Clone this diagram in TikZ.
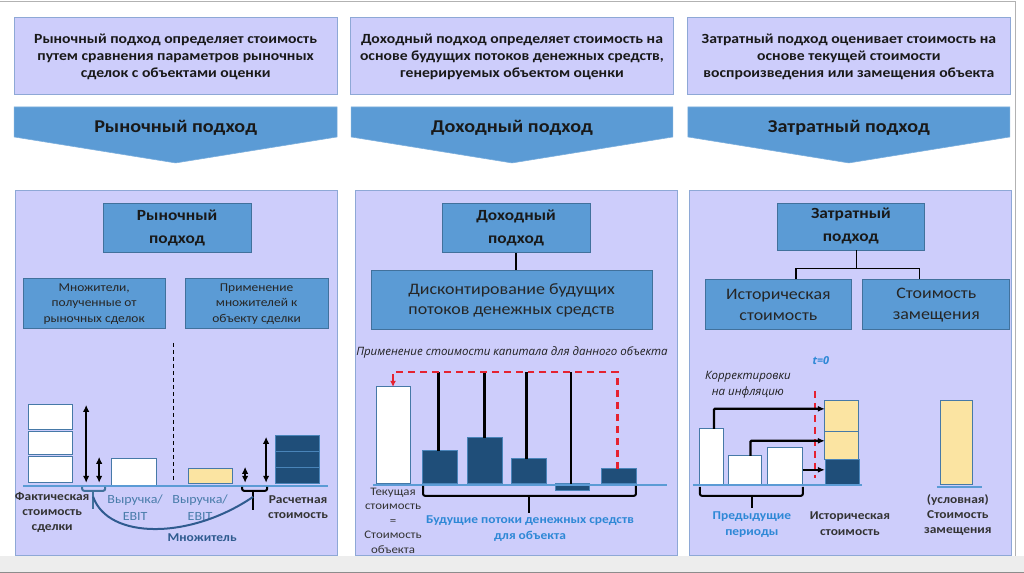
\documentclass[tikz,border=0pt]{standalone}
\usepackage{fontspec}
\setmainfont[FakeStretch=1.12]{Carlito}
\newfontfamily\slantfont{Open Sans}
\usepackage{tikz}
\usetikzlibrary{arrows.meta,positioning,calc}
\definecolor{pnlfill}{HTML}{CDCDFB}
\definecolor{pnledge}{HTML}{8EA8D6}
\definecolor{boxblue}{HTML}{5B9BD5}
\definecolor{boxedge}{HTML}{41719C}
\definecolor{darkfill}{HTML}{1F4E79}
\definecolor{sandfill}{HTML}{FBE4A2}
\definecolor{lblblue}{HTML}{2E88D6}
\definecolor{dashred}{HTML}{E52230}
\definecolor{txtdark}{HTML}{333333}
\definecolor{curveblue}{HTML}{2F5B8F}

\begin{document}
\begin{tikzpicture}[x=1pt, y=-1pt,
  panel/.style={fill=pnlfill, draw=pnledge, line width=1pt},
  topbox/.style={panel, inner sep=0, minimum width=323, minimum height=77, align=center, text=black!90, font=\bfseries\fontsize{14}{17}\selectfont},
  chev/.style={fill=boxblue, draw=boxblue!80!white, line width=0.6pt},
  chevlbl/.style={font=\bfseries\fontsize{18}{20}\selectfont, text=black!90},
  hdrbox/.style={fill=boxblue, draw=boxedge, line width=0.8pt, inner sep=0, align=center, font=\bfseries\fontsize{15.5}{23}\selectfont, text=black!90},
  subbox/.style={fill=boxblue, draw=boxedge, line width=0.8pt, inner sep=0, align=center, font=\fontsize{12}{15.5}\selectfont, text=black!85},
  bigbox/.style={subbox, font=\fontsize{16}{20.5}\selectfont},
  wbar/.style={fill=white, draw=boxedge!80!boxblue, line width=1pt, inner sep=0, outer sep=0, anchor=south west},
  dbar/.style={fill=darkfill, draw=boxblue!70!darkfill, line width=0.7pt, inner sep=0, outer sep=0, anchor=south west},
  sbar/.style={fill=sandfill, draw=boxedge!80!boxblue, line width=1pt, inner sep=0, outer sep=0, anchor=south west},
  baseln/.style={draw=boxblue, line width=1.8pt},
  dblarr/.style={{Latex[length=7pt,width=6.5pt]}-{Latex[length=7pt,width=6.5pt]}, line width=2.2pt},
  brk/.style={line width=2pt, rounded corners=2pt},
  stemln/.style={line width=2.4pt},
  treeln/.style={line width=1.2pt},
  harr/.style={-{Latex[length=7pt,width=6pt]}, line width=2.2pt, rounded corners=1pt},
  reddash/.style={draw=dashred, line width=2.4pt, dash pattern=on 7pt off 5pt},
  boldlbl/.style={align=center, font=\bfseries\fontsize{12}{15}\selectfont, text=txtdark},
  bluelbl/.style={align=center, font=\bfseries\fontsize{12}{16}\selectfont, text=lblblue},
  plainlbl/.style={align=center, font=\fontsize{11.5}{14.5}\selectfont, text=txtdark},
  slantlbl/.style={align=center, font=\slantfont\itshape\fontsize{11.5}{16}\selectfont, text=black!88}
]
  \fill[white] (0,0) rectangle (1024,573);
  \fill[black!7] (0,556) rectangle (1024,573);
  \draw[black!30] (0,1) -- (1015,1) -- (1015,556);
  \draw[black!45] (0,572) -- (1024,572);
  \useasboundingbox (0,0) rectangle (1024,573);

  \node[topbox] (mtop) at (175.5,56.5) {Рыночный подход определяет стоимость\\путем сравнения параметров рыночных\\сделок с объектами оценки};
  \node[topbox] (dtop) at (512,56.5) {Доходный подход определяет стоимость на\\основе будущих потоков денежных средств,\\генерируемых объектом оценки};
  \node[topbox] (ztop) at (849,56.5) {Затратный подход оценивает стоимость на\\основе текущей стоимости\\воспроизведения или замещения объекта};

  \draw[chev] (14,107) -- (337,107) -- (337,137) -- (175.5,163) -- (14,137) -- cycle;
  \draw[chev] (351,107) -- (673,107) -- (673,137) -- (512,163) -- (351,137) -- cycle;
  \draw[chev] (688,107) -- (1010,107) -- (1010,137) -- (849,163) -- (688,137) -- cycle;
  \node[chevlbl] (mchev) at (175.5,128) {Рыночный подход};
  \node[chevlbl] (dchev) at (512,128) {Доходный подход};
  \node[chevlbl] (zchev) at (849,128) {Затратный подход};

  \draw[panel] (15,191) rectangle (337,556);
  \draw[panel] (355,191) rectangle (678,556);
  \draw[panel] (690,191) rectangle (1012,556);

  \node[hdrbox, minimum width=148, minimum height=49] (mhdr) at (177,228) {Рыночный\\подход};
  \node[subbox, minimum width=142, minimum height=50] (mmult) at (94,304) {Множители,\\полученные от\\рыночных сделок};
  \node[subbox, minimum width=143, minimum height=50] (mappl) at (256.5,304) {Применение\\множителей к\\объекту сделки};
  \draw[line width=1pt, dash pattern=on 4pt off 3pt] (173,343) -- (173,482);
  \draw[wbar] (28,405) rectangle (72,430);
  \draw[wbar] (28,432) rectangle (72,455);
  \draw[wbar] (28,457) rectangle (72,483);
  \draw[wbar] (111,459) rectangle (156,486);
  \draw[sbar] (188,469) rectangle (232,484);
  \draw[dbar] (275,436) rectangle (319,452);
  \draw[dbar] (275,452) rectangle (319,468);
  \draw[dbar] (275,468) rectangle (319,484);
  \draw[baseln] (23,486) -- (328,486);
  \draw[dblarr] (86,405) -- (86,483);
  \draw[dblarr] (99,457) -- (99,483);
  \draw[dblarr] (245,467) -- (245,483);
  \draw[dblarr] (266,437) -- (266,483);
  \draw[brk, draw=boxedge] (82,487) -- (82,491) -- (105,491) -- (105,487);
  \draw[stemln, line width=2pt, draw=boxedge] (93,491) -- (93,509);
  \draw[brk] (242,487) -- (242,491) -- (267,491) -- (267,487);
  \draw[stemln, line width=2pt] (253,491) -- (253,510);
  \node[boldlbl] (mfact) at (52,513) {Фактическая\\стоимость\\сделки};
  \node[plainlbl, text=boxblue!80!black, font=\fontsize{12.5}{17}\selectfont] (mrev1) at (135,507.5) {Выручка/\\EBIT};
  \node[plainlbl, text=boxblue!80!black, font=\fontsize{12.5}{17}\selectfont] (mrev2) at (200,507.5) {Выручка/\\EBIT};
  \node[boldlbl] (mcalc) at (298,507.5) {Расчетная\\стоимость};
  \draw[curveblue, line width=2pt] (93,497) .. controls (108,540) and (190,540) .. (253,497);
  \node[boldlbl, text=curveblue] (mmul) at (202,538) {Множитель};

  \node[hdrbox, minimum width=148, minimum height=49] (dhdr) at (516,228) {Доходный\\подход};
  \node[bigbox, minimum width=281, minimum height=59] (ddisc) at (511.5,300.5) {Дисконтирование будущих\\потоков денежных средств};
  \draw[treeln] (dhdr.south) -- (dhdr.south |- ddisc.north);
  \node[slantlbl] (dcap) at (512,353) {Применение стоимости капитала для данного объекта};
  \node[wbar, minimum width=34, minimum height=97] (cvbar) at (376,484) {};
  \node[dbar, minimum width=35, minimum height=33] (cf1) at (422,484) {};
  \node[dbar, minimum width=35, minimum height=46] (cf2) at (467,484) {};
  \node[dbar, minimum width=35, minimum height=25] (cf3) at (511,484) {};
  \node[dbar, minimum width=34, minimum height=7, anchor=north west] (cf4) at (555,484) {};
  \node[dbar, minimum width=35, minimum height=15] (cf5) at (601,484) {};
  \draw[baseln] (373,485) -- (667,485);
  \coordinate (rline) at (0,372);
  \draw[stemln] ([xshift=-1]cf1.north) -- ([xshift=-1]cf1.north |- rline);
  \draw[stemln] (cf2.north) -- (cf2.north |- rline);
  \draw[stemln] ([xshift=-2]cf3.north) -- ([xshift=-2]cf3.north |- rline);
  \draw[stemln] ([xshift=-1]cf4.north) -- ([xshift=-1]cf4.north |- rline);
  \draw[reddash] ([xshift=-1]cf5.north) -- ([xshift=-1]cf5.north |- rline) -| ([yshift=8]cvbar.north);
  \draw[draw=dashred, line width=1.8pt, -{Latex[length=6pt,width=6pt]}] ([yshift=8]cvbar.north) -- (cvbar.north);
  \draw[brk] (423,486) -- (423,496) -- (636,496) -- (636,486);
  \draw[stemln, line width=2pt] (529,496) -- (529,513);
  \node[bluelbl] (dfut) at (530,529) {Будущие потоки денежных средств\\для объекта};
  \node[plainlbl] (dcur) at (393,521) {Текущая\\стоимость\\=\\Стоимость\\объекта};

  \node[hdrbox, minimum width=148, minimum height=47] (zhdr) at (851,226.5) {Затратный\\подход};
  \node[bigbox, minimum width=147, minimum height=50] (zhist) at (778.5,305) {Историческая\\стоимость};
  \node[bigbox, minimum width=147, minimum height=50] (zrepl) at (936.5,305) {Стоимость\\замещения};
  \coordinate (zfork) at (857,269);
  \draw[treeln] ([xshift=6]zhdr.south) -- (zfork);
  \draw[treeln] ([xshift=17.5]zhist.north) |- (zfork) -| ([xshift=-16.5]zrepl.north);
  \node[slantlbl, font=\slantfont\bfseries\itshape\fontsize{11}{12}\selectfont, text=lblblue] (zt0) at (821,361) {t=0};
  \node[slantlbl] (zinfl) at (748,385) {Корректировки\\на инфляцию};
  \draw[reddash] (815,391) -- (815,478);
  \node[sbar, minimum width=34, minimum height=31] (hs1) at (825,432) {};
  \node[sbar, minimum width=34, minimum height=28] (hs2) at (825,460) {};
  \node[dbar, minimum width=34, minimum height=25] (hs3) at (825,485) {};
  \node[wbar, minimum width=24, minimum height=56] (pb1) at (700,485) {};
  \node[wbar, minimum width=33, minimum height=29] (pb2) at (729,485) {};
  \node[wbar, minimum width=35, minimum height=37] (pb3) at (768,485) {};
  \draw[baseln] (693,485) -- (862,485);
  \draw[harr] ([xshift=2]pb1.north) |- ([yshift=7.5]hs1.west);
  \draw[harr] ([xshift=5]pb2.north) |- ([yshift=5]hs2.west);
  \draw[harr] ([yshift=-3.5]pb3.east) -- ([yshift=-3.5]pb3.east -| hs3.west);
  \draw[brk] (700,487) -- (700,496) -- (803,496) -- (803,487);
  \draw[stemln, line width=2pt] (752,496) -- (752,508);
  \node[bluelbl] (zprev) at (752,525) {Предыдущие\\периоды};
  \node[boldlbl, font=\bfseries\fontsize{12}{16}\selectfont] (zhlbl) at (850,524) {Историческая\\стоимость};
  \node[sbar, minimum width=32, minimum height=84] (rbar) at (941,485) {};
  \draw[baseln] (937,487) -- (982,487);
  \node[boldlbl] (zrlbl) at (958,515.5) {(условная)\\Стоимость\\замещения};
\end{tikzpicture}
\end{document}
